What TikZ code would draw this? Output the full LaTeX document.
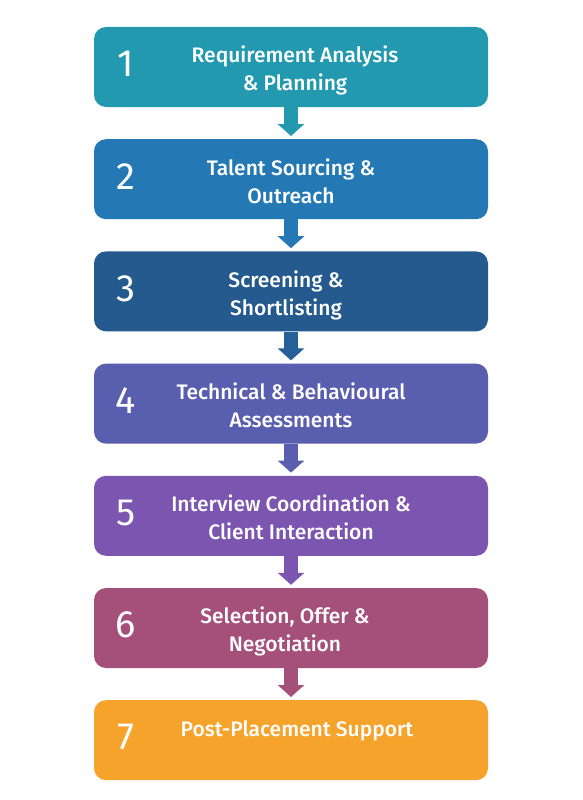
\documentclass[tikz,border=0pt]{standalone}
\usepackage{fontspec}
\setmainfont{Fira Sans}[UprightFont=* Medium]
\newfontfamily\numfont{Fira Sans}
\usetikzlibrary{arrows.meta, positioning}

\definecolor{reqcol}{HTML}{2399B0}
\definecolor{srccol}{HTML}{2479B5}
\definecolor{scrcol}{HTML}{255A8E}
\definecolor{asscol}{HTML}{5A5EAE}
\definecolor{intcol}{HTML}{7B55B0}
\definecolor{offcol}{HTML}{A5507A}
\definecolor{postcol}{HTML}{F5A32A}

\begin{document}
\begin{tikzpicture}[
	x=1pt, y=1pt,
	node distance=31.8pt,
	box/.style={rounded corners=12pt, minimum width=394pt, minimum height=80pt, inner sep=0pt},
	num/.style={text=white, font=\numfont\fontsize{38}{38}\selectfont, inner sep=0pt},
	steptext/.style={text=white, align=center, font=\fontsize{21}{28}\selectfont, inner sep=0pt, anchor=base},
	flow/.style={line width=14pt, -{Triangle[width=26pt, length=12pt]}, shorten >=3pt}
]
\useasboundingbox (0,0) rectangle (583,-800);

% Boxes
\node[box, fill=reqcol] (req) at (291,-67) {};
\node[box, fill=srccol, below=of req] (src) {};
\node[box, fill=scrcol, below=of src] (scr) {};
\node[box, fill=asscol, below=of scr] (ass) {};
\node[box, fill=intcol, below=of ass] (int) {};
\node[box, fill=offcol, below=of int] (off) {};
\node[box, fill=postcol, below=of off] (post) {};

% Numbers
\node[num] (req-n) at ([xshift=32pt, yshift=3pt]req.west) {1};
\node[num] (src-n) at ([xshift=32pt, yshift=3pt]src.west) {2};
\node[num] (scr-n) at ([xshift=32pt, yshift=3pt]scr.west) {3};
\node[num] (ass-n) at ([xshift=32pt, yshift=3pt]ass.west) {4};
\node[num] (int-n) at ([xshift=32pt, yshift=3pt]int.west) {5};
\node[num] (off-n) at ([xshift=32pt, yshift=3pt]off.west) {6};
\node[num] (post-n) at ([xshift=32pt, yshift=3pt]post.west) {7};

% Texts (base = last line)
\node[steptext] (req-t) at ([xshift=4pt, yshift=-64pt]req.north) {Requirement Analysis\\\& Planning};
\node[steptext] (src-t) at ([yshift=-64pt]src.north) {Talent Sourcing \&\\Outreach};
\node[steptext] (scr-t) at ([xshift=-5pt, yshift=-64pt]scr.north) {Screening \&\\Shortlisting};
\node[steptext] (ass-t) at ([yshift=-64pt]ass.north) {Technical \& Behavioural\\Assessments};
\node[steptext] (int-t) at ([yshift=-64pt]int.north) {Interview Coordination \&\\Client Interaction};
\node[steptext] (off-t) at ([xshift=-6pt, yshift=-64pt]off.north) {Selection, Offer \&\\Negotiation};
\node[steptext] (post-t) at ([xshift=6pt, yshift=-36pt]post.north) {Post-Placement Support};

% Arrows
\draw[flow, reqcol] (req) -- (src);
\draw[flow, srccol] (src) -- (scr);
\draw[flow, scrcol!80!srccol] (scr) -- (ass);
\draw[flow, asscol] (ass) -- (int);
\draw[flow, intcol] (int) -- (off);
\draw[flow, offcol] (off) -- (post);

\end{tikzpicture}
\end{document}
